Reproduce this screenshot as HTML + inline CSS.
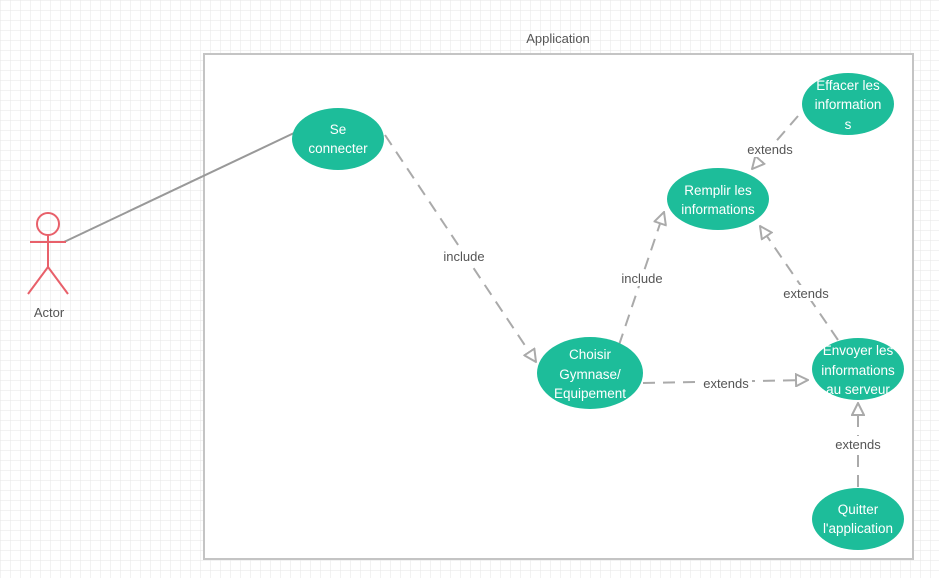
<!DOCTYPE html>
<html><head><meta charset="utf-8"><style>
html,body{margin:0;padding:0;background:#fff;}
svg{display:block;font-family:"Liberation Sans",sans-serif;}
</style></head><body>
<svg width="939" height="578" viewBox="0 0 939 578" xmlns="http://www.w3.org/2000/svg">
<defs>
<pattern id="g" width="10" height="10" patternUnits="userSpaceOnUse">
<path d="M10 0 L0 0 0 10" fill="none" stroke="#e6e6e6" stroke-width="1"/>
</pattern>
<marker id="t" viewBox="0 0 14 14" refX="13" refY="7" markerWidth="14" markerHeight="14" markerUnits="userSpaceOnUse" orient="auto">
<path d="M1 1 L13 7 L1 13 Z" fill="#fff" stroke="#aaa" stroke-width="2"/>
</marker>
</defs>
<rect width="939" height="578" fill="url(#g)"/>
<rect x="204" y="54" width="709" height="505" fill="#fff" stroke="#c4c4c4" stroke-width="2"/>
<text x="558" y="43" font-size="13" fill="#555" text-anchor="middle">Application</text>

<g stroke="#aaa" stroke-width="2" fill="none">
<line x1="64" y1="242" x2="294" y2="133" stroke="#999"/>
<g stroke-dasharray="12,8" marker-end="url(#t)">
<line x1="385" y1="135" x2="536" y2="362"/>
<line x1="619" y1="345" x2="664" y2="212"/>
<line x1="643" y1="383" x2="808" y2="380"/>
<line x1="838" y1="340" x2="760" y2="226"/>
<line x1="798" y1="116" x2="752" y2="169"/>
<line x1="858" y1="487" x2="858" y2="403"/>
</g>
</g>

<g font-size="13" fill="#555" text-anchor="middle">
<rect x="440" y="248" width="48" height="16" fill="#fff"/><text x="464" y="261">include</text>
<rect x="618" y="270" width="48" height="16" fill="#fff"/><text x="642" y="283">include</text>
<rect x="700" y="375" width="52" height="16" fill="#fff"/><text x="726" y="388">extends</text>
<rect x="780" y="285" width="52" height="16" fill="#fff"/><text x="806" y="298">extends</text>
<rect x="744" y="141" width="52" height="16" fill="#fff"/><text x="770" y="154">extends</text>
<rect x="832" y="436" width="52" height="16" fill="#fff"/><text x="858" y="449">extends</text>
<text x="49" y="317">Actor</text>
</g>

<g fill="#1dbd9a">
<ellipse cx="338" cy="139" rx="46" ry="31"/>
<ellipse cx="718" cy="199" rx="51" ry="31"/>
<ellipse cx="848" cy="104" rx="46" ry="31"/>
<ellipse cx="590" cy="373" rx="53" ry="36"/>
<ellipse cx="858" cy="369" rx="46" ry="31"/>
<ellipse cx="858" cy="519" rx="46" ry="31"/>
</g>
<g font-size="13.5" fill="#fff" text-anchor="middle">
<text x="338" y="134">Se</text><text x="338" y="153">connecter</text>
<text x="718" y="195">Remplir les</text><text x="718" y="214">informations</text>
<text x="848" y="90">Effacer les</text><text x="848" y="109">information</text><text x="848" y="129">s</text>
<text x="590" y="359">Choisir</text><text x="590" y="379">Gymnase/</text><text x="590" y="398">Equipement</text>
<text x="858" y="355">Envoyer les</text><text x="858" y="375">informations</text><text x="858" y="394">au serveur</text>
<text x="858" y="514">Quitter</text><text x="858" y="533">l'application</text>
</g>

<g stroke="#e8606a" stroke-width="2" fill="none">
<circle cx="48" cy="224" r="11"/>
<line x1="48" y1="235" x2="48" y2="267"/>
<line x1="30" y1="242" x2="66" y2="242"/>
<line x1="48" y1="267" x2="28" y2="294"/>
<line x1="48" y1="267" x2="68" y2="294"/>
</g>
</svg>
</body></html>
